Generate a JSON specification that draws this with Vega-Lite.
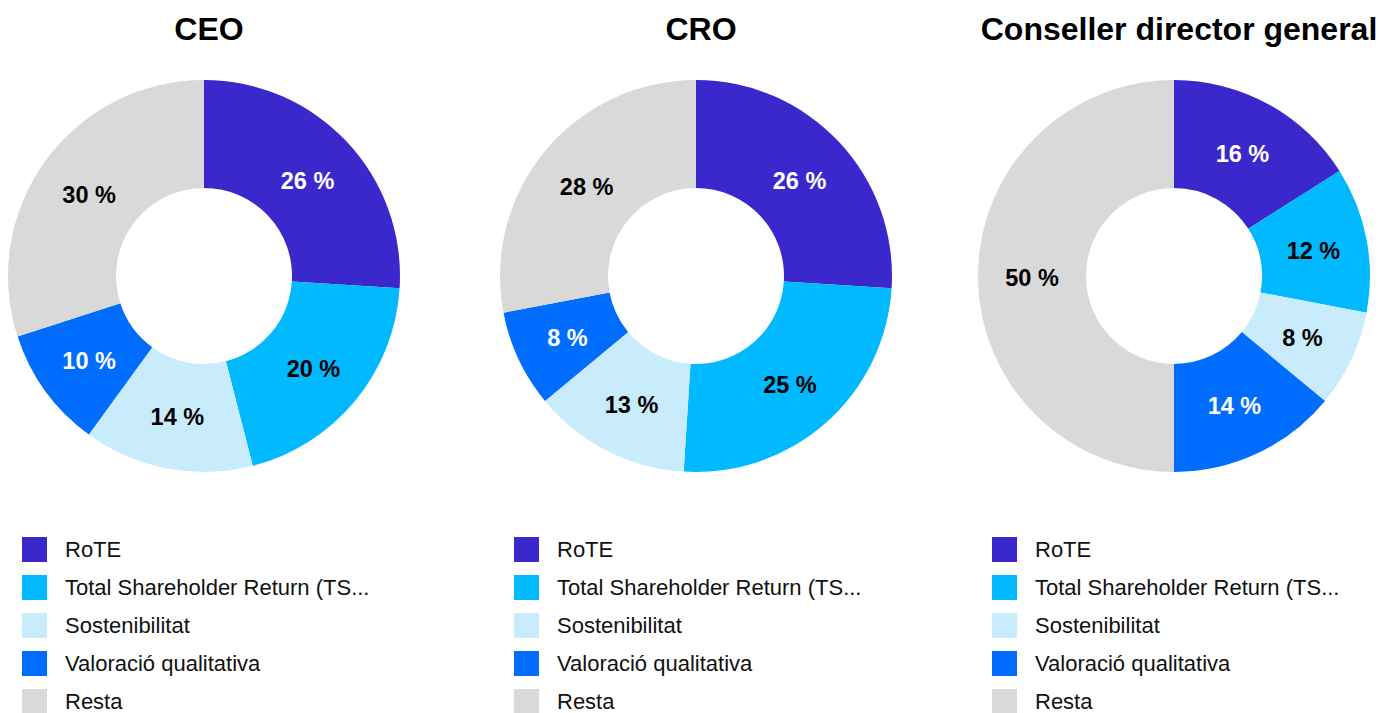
{
  "$schema": "https://vega.github.io/schema/vega-lite/v6.json",
  "padding": {"left": 8, "top": 14, "right": 5, "bottom": 5},
  "background": "white",
  "config": {
    "view": {"stroke": null},
    "font": "Liberation Sans",
    "title": {"font": "Liberation Sans", "fontSize": 32, "fontWeight": "bold", "color": "#000000", "offset": 33, "anchor": "middle", "dx": 5},
    "legend": {
      "orient": "none", "legendX": 14, "legendY": 457,
      "title": null, "symbolType": "square", "symbolSize": 625, "symbolStrokeWidth": 0,
      "labelFont": "Liberation Sans", "labelFontSize": 22, "labelColor": "#111111",
      "labelOffset": 18, "rowPadding": 13, "labelLimit": 500, "padding": 0
    }
  },
  "datasets": {
    "d": [
      {"role": "CEO", "cat": "RoTE", "idx": 1, "value": 26, "label": "26 %"},
      {"role": "CEO", "cat": "Total Shareholder Return (TSR)", "idx": 2, "value": 20, "label": "20 %"},
      {"role": "CEO", "cat": "Sostenibilitat", "idx": 3, "value": 14, "label": "14 %"},
      {"role": "CEO", "cat": "Valoració qualitativa", "idx": 4, "value": 10, "label": "10 %"},
      {"role": "CEO", "cat": "Resta", "idx": 5, "value": 30, "label": "30 %"},
      {"role": "CRO", "cat": "RoTE", "idx": 1, "value": 26, "label": "26 %"},
      {"role": "CRO", "cat": "Total Shareholder Return (TSR)", "idx": 2, "value": 25, "label": "25 %"},
      {"role": "CRO", "cat": "Sostenibilitat", "idx": 3, "value": 13, "label": "13 %"},
      {"role": "CRO", "cat": "Valoració qualitativa", "idx": 4, "value": 8, "label": "8 %"},
      {"role": "CRO", "cat": "Resta", "idx": 5, "value": 28, "label": "28 %"},
      {"role": "CDG", "cat": "RoTE", "idx": 1, "value": 16, "label": "16 %"},
      {"role": "CDG", "cat": "Total Shareholder Return (TSR)", "idx": 2, "value": 12, "label": "12 %"},
      {"role": "CDG", "cat": "Sostenibilitat", "idx": 3, "value": 8, "label": "8 %"},
      {"role": "CDG", "cat": "Valoració qualitativa", "idx": 4, "value": 14, "label": "14 %"},
      {"role": "CDG", "cat": "Resta", "idx": 5, "value": 50, "label": "50 %"}
    ]
  },
  "data": {"name": "d"},
  "bounds": "flush",
  "spacing": 100,
  "resolve": {"scale": {"color": "independent", "theta": "independent"}, "legend": {"color": "independent"}},
  "hconcat": [
    {
      "width": 392, "height": 392,
      "title": {"text": "CEO"},
      "transform": [{"filter": "datum.role == 'CEO'"}],
      "encoding": {
        "theta": {"field": "value", "type": "quantitative", "stack": true},
        "order": {"field": "idx", "type": "quantitative"}
      },
      "layer": [
        {
          "mark": {"type": "arc", "innerRadius": 88, "outerRadius": 196},
          "encoding": {
            "color": {
              "field": "cat", "type": "nominal",
              "scale": {"domain": ["RoTE", "Total Shareholder Return (TSR)", "Sostenibilitat", "Valoració qualitativa", "Resta"], "range": ["#3b28cc", "#00b9ff", "#c9ecfc", "#006dff", "#d9d9d9"]},
              "legend": {"labelExpr": "length(datum.label) > 28 ? slice(datum.label, 0, 28) + '...' : datum.label"}
            }
          }
        },
        {
          "mark": {"type": "text", "radius": 142, "dy": 3, "fontSize": 23.5, "fontWeight": "bold", "font": "Liberation Sans"},
          "encoding": {
            "text": {"field": "label"},
            "color": {"condition": {"test": "datum.cat == 'RoTE' || datum.cat == 'Valoració qualitativa'", "value": "#ffffff"}, "value": "#000000"}
          }
        }
      ]
    },
    {
      "bounds": "flush",
      "spacing": 86,
      "resolve": {"scale": {"color": "independent", "theta": "independent"}, "legend": {"color": "independent"}},
      "hconcat": [
        {
          "width": 392, "height": 392,
          "title": {"text": "CRO"},
          "transform": [{"filter": "datum.role == 'CRO'"}],
          "encoding": {
            "theta": {"field": "value", "type": "quantitative", "stack": true},
            "order": {"field": "idx", "type": "quantitative"}
          },
          "layer": [
            {
              "mark": {"type": "arc", "innerRadius": 88, "outerRadius": 196},
              "encoding": {
                "color": {
                  "field": "cat", "type": "nominal",
                  "scale": {"domain": ["RoTE", "Total Shareholder Return (TSR)", "Sostenibilitat", "Valoració qualitativa", "Resta"], "range": ["#3b28cc", "#00b9ff", "#c9ecfc", "#006dff", "#d9d9d9"]},
                  "legend": {"labelExpr": "length(datum.label) > 28 ? slice(datum.label, 0, 28) + '...' : datum.label"}
                }
              }
            },
            {
              "mark": {"type": "text", "radius": 142, "dy": 3, "fontSize": 23.5, "fontWeight": "bold", "font": "Liberation Sans"},
              "encoding": {
                "text": {"field": "label"},
                "color": {"condition": {"test": "datum.cat == 'RoTE' || datum.cat == 'Valoració qualitativa'", "value": "#ffffff"}, "value": "#000000"}
              }
            }
          ]
        },
        {
          "width": 392, "height": 392,
          "title": {"text": "Conseller director general"},
          "transform": [{"filter": "datum.role == 'CDG'"}],
          "encoding": {
            "theta": {"field": "value", "type": "quantitative", "stack": true},
            "order": {"field": "idx", "type": "quantitative"}
          },
          "layer": [
            {
              "mark": {"type": "arc", "innerRadius": 88, "outerRadius": 196},
              "encoding": {
                "color": {
                  "field": "cat", "type": "nominal",
                  "scale": {"domain": ["RoTE", "Total Shareholder Return (TSR)", "Sostenibilitat", "Valoració qualitativa", "Resta"], "range": ["#3b28cc", "#00b9ff", "#c9ecfc", "#006dff", "#d9d9d9"]},
                  "legend": {"labelExpr": "length(datum.label) > 28 ? slice(datum.label, 0, 28) + '...' : datum.label"}
                }
              }
            },
            {
              "mark": {"type": "text", "radius": 142, "dy": 3, "fontSize": 23.5, "fontWeight": "bold", "font": "Liberation Sans"},
              "encoding": {
                "text": {"field": "label"},
                "color": {"condition": {"test": "datum.cat == 'RoTE' || datum.cat == 'Valoració qualitativa'", "value": "#ffffff"}, "value": "#000000"}
              }
            }
          ]
        }
      ]
    }
  ]
}
